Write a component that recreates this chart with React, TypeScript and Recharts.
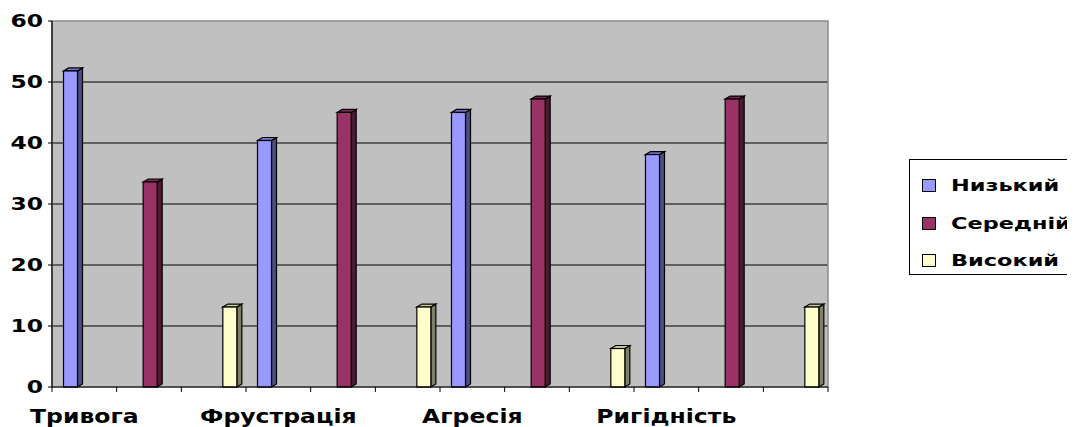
import React from 'react';
import { BarChart, Bar, XAxis, YAxis, CartesianGrid, Legend, ReferenceArea } from 'recharts';

// 12 slots, one bar in each, labels every third slot
const categoryLabels = ['Тривога', '', '', 'Фрустрація', '', '', 'Агресія', '', '', 'Ригідність', '', ''];
const lowValues = [52.3, null, null, 40.9, null, null, 45.5, null, null, 38.6, null, null];
const midValues = [null, 34.1, null, null, 45.5, null, null, 47.7, null, null, 47.7, null];
const highValues = [null, null, 13.6, null, null, 13.6, null, null, 6.8, null, null, 13.6];
const yTicks = [0, 10, 20, 30, 40, 50, 60];

const seriesInfo = [
    { key: 'low', name: 'Низький', fill: '#9999FF', side: '#4D4D80', top: '#7373C8' },
    { key: 'mid', name: 'Середній', fill: '#993366', side: '#4D1A33', top: '#7A2952' },
    { key: 'high', name: 'Високий', fill: '#FFFFCC', side: '#808066', top: '#CCCCA3' },
];

const data = categoryLabels.map((label, i) => ({
    slot: i,
    low: lowValues[i],
    mid: midValues[i],
    high: highValues[i],
}));

const W = 1067;
const H = 419;
const margin = { top: 13, right: 247, bottom: 10, left: 0 };
const yAxisWidth = 44;
const xAxisHeight = 30;
const plotLeft = margin.left + yAxisWidth;
const plotRight = W - margin.right;
const plotBottom = H - margin.bottom - xAxisHeight;
const band = (plotRight - plotLeft) / categoryLabels.length;

const make3D = (side: string, top: string) => (props: any) => {
    const { x, y, width, height, fill } = props;
    if (height == null || !(height > 0)) return null;
    const d = 5;
    const e = 3;
    const fx = x + 1.5;
    const fw = width - 1;
    return (
        <g stroke="#000" strokeWidth={1.2}>
            <polygon
                points={`${fx + fw},${y + e} ${fx + fw + d},${y} ${fx + fw + d},${y + height - e} ${fx + fw},${y + height}`}
                fill={side}
            />
            <polygon points={`${fx},${y + e} ${fx + d},${y} ${fx + fw + d},${y} ${fx + fw},${y + e}`} fill={top} />
            <rect x={fx} y={y + e} width={fw} height={height - e} fill={fill} />
        </g>
    );
};

const YTick = (props: any) => {
    const { x, y, payload } = props;
    return (
        <g transform={`translate(${x},${y}) scale(1.3,1)`}>
            <text x={0} y={0} dy="0.36em" textAnchor="end" fontSize={18} fontWeight="bold" fill="#000"
                fontFamily="DejaVu Sans">
                {payload.value}
            </text>
        </g>
    );
};

const XTick = (props: any) => {
    const { x, payload, index } = props;
    const label = categoryLabels[payload.value];
    return (
        <g>
            {index === 0 && (
                <line x1={x - band / 2} x2={x - band / 2} y1={plotBottom} y2={plotBottom + 5} stroke="#000" />
            )}
            <line x1={x + band / 2} x2={x + band / 2} y1={plotBottom} y2={plotBottom + 5} stroke="#000" />
            {label && (
                <g transform={`translate(${x},${plotBottom + 36}) scale(1.24,1)`}>
                    <text x={0} y={0} textAnchor="middle" fontSize={19} fontWeight="bold" fill="#000"
                        fontFamily="DejaVu Sans">
                        {label}
                    </text>
                </g>
            )}
        </g>
    );
};

const LegendBox = () => (
    <div style={{
        border: '1.5px solid #000', background: '#fff', width: 190, height: 116,
        boxSizing: 'border-box', paddingLeft: 12, paddingTop: 7,
        fontFamily: 'DejaVu Sans', fontWeight: 'bold', fontSize: 16, color: '#000',
    }}>
        {seriesInfo.map((s) => (
            <div key={s.key} style={{ height: 37.5, display: 'flex', alignItems: 'center' }}>
                <span style={{ width: 14, height: 13, border: '1.5px solid #000', background: s.fill, boxSizing: 'border-box', flex: 'none' }} />
                <span style={{ display: 'inline-block', marginLeft: 15, transform: 'scaleX(1.4)', transformOrigin: 'left center', whiteSpace: 'nowrap' }}>
                    {s.name}
                </span>
            </div>
        ))}
    </div>
);

export default function App() {
    return (
        <BarChart width={W} height={H} data={data} margin={margin} barSize={15} barGap={0} barCategoryGap={0}>
            <CartesianGrid vertical={false} stroke="#000" strokeWidth={1.2} fill="#C0C0C0"
                horizontalValues={[10, 20, 30, 40, 50]} />
            <ReferenceArea y1={0} y2={60} fill="none" stroke="#8C8C8C" strokeWidth={1.5} />
            <XAxis dataKey="slot" type="category" height={xAxisHeight} interval={0} tickLine={false}
                axisLine={{ stroke: '#000', strokeWidth: 1.2 }} tick={<XTick />} />
            <YAxis width={yAxisWidth} domain={[0, 60]} ticks={yTicks} interval={0} tickSize={4} tickMargin={5}
                axisLine={{ stroke: '#000', strokeWidth: 1.2 }} tickLine={{ stroke: '#000' }} tick={<YTick />} />
            <Legend layout="vertical" align="center" verticalAlign="middle" content={<LegendBox />}
                wrapperStyle={{ left: 901, top: 151, width: 190 }} />
            {seriesInfo.map((s) => (
                <Bar key={s.key} dataKey={s.key} name={s.name} fill={s.fill} isAnimationActive={false}
                    shape={make3D(s.side, s.top)} />
            ))}
        </BarChart>
    );
}
